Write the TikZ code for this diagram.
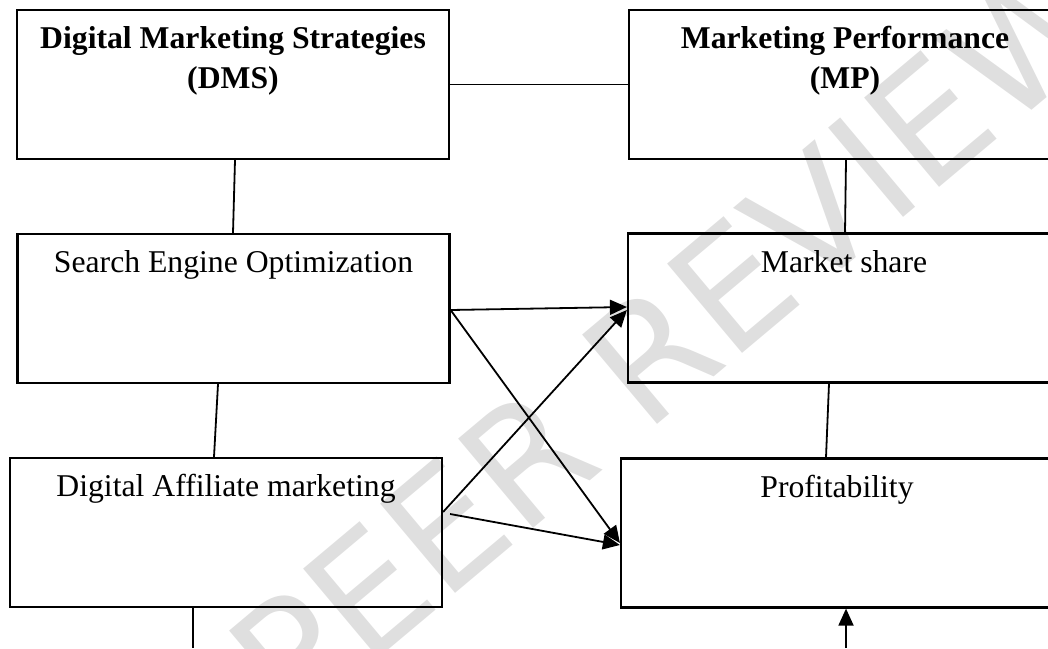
\documentclass[tikz,border=0pt]{standalone}
\usepackage{fontspec}
\setmainfont{Liberation Serif}
\setsansfont{DejaVu Sans}
\usepackage{tikz}
\usetikzlibrary{arrows.meta}
\tikzset{every picture/.style={line width=1.8pt}}
\tikzset{
  box/.style={draw, line width=2.2pt, minimum width=432pt, minimum height=149pt, inner sep=0pt},
  lbl/.style={anchor=base, align=center, inner sep=0pt, yshift=-40pt, font=\fontsize{31.7}{40}\selectfont},
  lbltwo/.style={lbl, yshift=-40pt},
  arr/.style={-{Triangle[length=17pt,width=15pt]}}
}

\begin{document}
\begin{tikzpicture}[x=1pt,y=-1pt]
\useasboundingbox (0,0) rectangle (1048,648);
% watermark
\node[rotate=40, text=gray!25, font=\fontsize{160}{160}\selectfont\sffamily] (stamp) at (672,336) {PEER REVIEW};
%
\node[box, label={[lbltwo]north:\textbf{Digital Marketing Strategies}\\\textbf{(DMS)}}] (dms) at (233,84.5) {};
\node[box, label={[lbltwo]north:\textbf{Marketing Performance}\\\textbf{(MP)}}] (mp) at (845,84.5) {};
\node[box, label={[lbl]north:Search Engine Optimization}] (seo) at (233.5,308.5) {};
\node[box, label={[lbl]north:Market share}] (ms) at (844,308) {};
\node[box, label={[lbl]north:Digital Affiliate marketing}] (dam) at (226,532.5) {};
\node[box, label={[lbl]north:Profitability}] (prof) at (837,533) {};
\coordinate (damout) at (193,648);
\coordinate (profin) at (846,648);
%
\draw (dms.east) -- (mp.west);
\draw ([xshift=2pt]dms.south) -- ([xshift=-0.5pt]seo.north);
\draw ([xshift=1pt]mp.south) -- ([xshift=1pt]ms.north);
\draw ([xshift=-15.5pt]seo.south) -- ([xshift=-12pt]dam.north);
\draw ([xshift=-15pt]ms.south) -- ([xshift=-11pt]prof.north);
\draw ([xshift=-33pt]dam.south) -- (damout);
\draw [arr] (profin) -- ([xshift=9pt]prof.south);
%
\draw [arr] ([yshift=-1.5pt]seo.east) -- ([yshift=1pt]ms.west);
\draw [arr] ([yshift=-1.5pt]seo.east) -- ([yshift=-10pt]prof.west);
\draw [arr] ([yshift=20.5pt]dam.east) -- ([yshift=-2pt]ms.west);
\draw [arr] ([xshift=7pt,yshift=18.5pt]dam.east) -- ([yshift=-12pt]prof.west);
\end{tikzpicture}
\end{document}
